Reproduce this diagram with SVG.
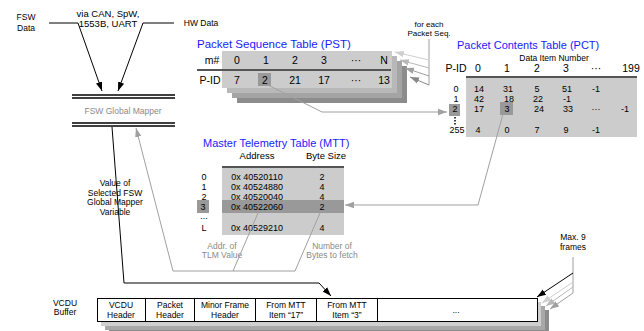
<svg xmlns="http://www.w3.org/2000/svg" width="644" height="331" viewBox="0 0 644 331">
<defs>
<style>
text{font-family:"Liberation Sans",Arial,sans-serif;fill:#000}
.lbl{font-size:8.5px;text-anchor:middle}
.num{font-size:10.5px;text-anchor:middle}
.row{font-size:9px;text-anchor:middle}
.ttl{font-size:11.5px;fill:#1a1aff}
.gtx{font-size:8.5px;text-anchor:middle;fill:#8a8a8a}
.k{stroke:#000;stroke-width:1;fill:none}
.g{stroke:#a0a0a0;stroke-width:1;fill:none}
.sep{stroke:#555;stroke-width:2}
.hl{fill:#999}
</style>
<marker id="ak" viewBox="0 0 10 10" refX="10" refY="5" markerWidth="9" markerHeight="9" orient="auto" markerUnits="userSpaceOnUse"><path d="M0,1.5 L10,5 L0,8.5 z" fill="#000"/></marker>
<marker id="ag" viewBox="0 0 10 10" refX="10" refY="5" markerWidth="9" markerHeight="9" orient="auto" markerUnits="userSpaceOnUse"><path d="M0,1.5 L10,5 L0,8.5 z" fill="#a0a0a0"/></marker>
<marker id="a1" viewBox="0 0 10 10" refX="10" refY="5" markerWidth="9" markerHeight="9" orient="auto" markerUnits="userSpaceOnUse"><path d="M0,1.5 L10,5 L0,8.5 z" fill="#cfcfcf"/></marker>
<marker id="a2" viewBox="0 0 10 10" refX="10" refY="5" markerWidth="9" markerHeight="9" orient="auto" markerUnits="userSpaceOnUse"><path d="M0,1.5 L10,5 L0,8.5 z" fill="#b8b8b8"/></marker>
<marker id="a3" viewBox="0 0 10 10" refX="10" refY="5" markerWidth="9" markerHeight="9" orient="auto" markerUnits="userSpaceOnUse"><path d="M0,1.5 L10,5 L0,8.5 z" fill="#a0a0a0"/></marker>
<marker id="a4" viewBox="0 0 10 10" refX="10" refY="5" markerWidth="9" markerHeight="9" orient="auto" markerUnits="userSpaceOnUse"><path d="M0,1.5 L10,5 L0,8.5 z" fill="#888"/></marker>
</defs>
<rect x="0" y="0" width="644" height="331" fill="#fff"/>

<g id="fsw-data">
<text class="lbl" x="26" y="20">FSW</text>
<text class="lbl" x="26" y="31">Data</text>
</g>
<g id="via-label">
<text class="lbl" x="108" y="17" style="font-size:9.5px">via CAN, SpW,</text>
<text class="lbl" x="108" y="27" style="font-size:9.5px">1553B, UART</text>
</g>
<g id="hw-data">
<text class="lbl" x="201" y="26">HW Data</text>
</g>

<g id="global-mapper">
<line x1="72" y1="95" x2="175" y2="95" stroke="#000" stroke-width="1.5"/>
<line x1="72" y1="98" x2="175" y2="98" stroke="#000" stroke-width="1.5"/>
<text class="gtx" x="123" y="114">FSW Global Mapper</text>
<line x1="72" y1="123" x2="175" y2="123" stroke="#000" stroke-width="1.5"/>
<line x1="72" y1="126" x2="175" y2="126" stroke="#000" stroke-width="1.5"/>
</g>

<g id="pst">
<text class="ttl" x="197" y="48">Packet Sequence Table (PST)</text>
<rect x="237" y="66" width="170" height="37" fill="#8c8c8c"/>
<rect x="232" y="61" width="170" height="37" fill="#a4a4a4"/>
<rect x="227" y="56" width="170" height="37" fill="#b8b8b8"/>
<rect x="222" y="51" width="170" height="37" fill="#cccccc"/>
<line class="sep" x1="197" y1="70" x2="391" y2="70"/>
<rect class="hl" x="258" y="73" width="13" height="13"/>
<text class="num" x="212" y="64">m#</text>
<text class="num" x="237" y="64">0</text>
<text class="num" x="266" y="64">1</text>
<text class="num" x="295" y="64">2</text>
<text class="num" x="324" y="64">3</text>
<text class="num" x="356" y="64">···</text>
<text class="num" x="384" y="64">N</text>
<text class="num" x="210" y="84">P-ID</text>
<text class="num" x="237" y="84">7</text>
<text class="num" x="265" y="84">2</text>
<text class="num" x="295" y="84">21</text>
<text class="num" x="324" y="84">17</text>
<text class="num" x="356" y="84">···</text>
<text class="num" x="384" y="84">13</text>
</g>

<g id="pst-note">
<text class="lbl" x="429" y="27" style="font-size:8px">for each</text>
<text class="lbl" x="429" y="36" style="font-size:8px">Packet Seq.</text>
</g>

<g id="pct">
<text class="ttl" x="457" y="49" style="font-size:11px">Packet Contents Table (PCT)</text>
<text class="lbl" x="554" y="61">Data Item Number</text>
<rect x="466" y="76" width="171" height="61" fill="#cccccc"/>
<line class="sep" x1="466" y1="77" x2="637" y2="77"/>
<rect class="hl" x="449" y="104" width="11" height="12"/>
<rect class="hl" x="500" y="102" width="13" height="13"/>
<line x1="455" y1="117" x2="455" y2="125" stroke="#000" stroke-width="1.5" stroke-dasharray="1.5,1.5"/>
<text class="num" x="456" y="72">P-ID</text>
<text class="num" x="478" y="72">0</text>
<text class="num" x="507" y="72">1</text>
<text class="num" x="537" y="72">2</text>
<text class="num" x="566" y="72">3</text>
<text class="num" x="596" y="72">···</text>
<text class="num" x="631" y="72">199</text>
<text class="row" x="456" y="92">0</text>
<text class="row" x="479" y="92">14</text>
<text class="row" x="508" y="92">31</text>
<text class="row" x="537" y="92">5</text>
<text class="row" x="567" y="92">51</text>
<text class="row" x="596" y="92">-1</text>
<text class="row" x="456" y="102">1</text>
<text class="row" x="479" y="102">42</text>
<text class="row" x="509" y="102">18</text>
<text class="row" x="538" y="102">22</text>
<text class="row" x="567" y="102">-1</text>
<text class="row" x="455" y="112">2</text>
<text class="row" x="479" y="112">17</text>
<text class="row" x="507" y="112">3</text>
<text class="row" x="539" y="112">24</text>
<text class="row" x="568" y="112">33</text>
<text class="row" x="596" y="112">···</text>
<text class="row" x="625" y="112">-1</text>
<text class="row" x="457" y="133">255</text>
<text class="row" x="478" y="133">4</text>
<text class="row" x="507" y="133">0</text>
<text class="row" x="537" y="133">7</text>
<text class="row" x="566" y="133">9</text>
<text class="row" x="596" y="133">-1</text>
</g>

<g id="mtt">
<text class="ttl" x="203" y="147" style="font-size:11px">Master Telemetry Table (MTT)</text>
<text class="num" x="257" y="159" style="font-size:9.5px">Address</text>
<text class="num" x="326" y="159" style="font-size:9.5px">Byte Size</text>
<rect x="222" y="166" width="122" height="69" fill="#cccccc"/>
<line class="sep" x1="222" y1="167" x2="344" y2="167"/>
<rect class="hl" x="222" y="200" width="122" height="13"/>
<rect class="hl" x="197" y="200" width="12" height="13"/>
<text class="row" x="204" y="180">0</text>
<text class="row" x="204" y="190">1</text>
<text class="row" x="204" y="200">2</text>
<text class="row" x="203" y="210">3</text>
<text class="row" x="204" y="219">...</text>
<text class="row" x="204" y="231">L</text>
<text class="row" x="257" y="180">0x 40520110</text>
<text class="row" x="257" y="190">0x 40524880</text>
<text class="row" x="257" y="200">0x 40520040</text>
<text class="row" x="257" y="210">0x 40522060</text>
<text class="row" x="257" y="231">0x 40529210</text>
<text class="row" x="322" y="180">2</text>
<text class="row" x="322" y="190">4</text>
<text class="row" x="322" y="200">4</text>
<text class="row" x="322" y="210">2</text>
<text class="row" x="322" y="231">4</text>
</g>

<g id="mtt-notes">
<text class="gtx" x="222" y="249">Addr. of</text>
<text class="gtx" x="222" y="258">TLM Value</text>
<text class="gtx" x="332" y="249">Number of</text>
<text class="gtx" x="332" y="258">Bytes to fetch</text>
</g>

<g id="mapper-value-label">
<text class="lbl" x="115" y="186">Value of</text>
<text class="lbl" x="115" y="196">Selected FSW</text>
<text class="lbl" x="115" y="205">Global Mapper</text>
<text class="lbl" x="115" y="215">Variable</text>
</g>

<g id="vcdu">
<text class="lbl" x="65" y="306">VCDU</text>
<text class="lbl" x="65" y="315">Buffer</text>
<rect x="109" y="310" width="440" height="24" fill="#8c8c8c"/>
<rect x="105" y="306" width="440" height="24" fill="#a8a8a8"/>
<rect x="101" y="302" width="440" height="24" fill="#cfcfcf"/>
<rect x="97.5" y="298.5" width="440" height="23" fill="#fff" stroke="#000"/>
<line x1="145.5" y1="298" x2="145.5" y2="322" stroke="#000"/>
<line x1="194.5" y1="298" x2="194.5" y2="322" stroke="#000"/>
<line x1="255.5" y1="298" x2="255.5" y2="322" stroke="#000"/>
<line x1="316.5" y1="298" x2="316.5" y2="322" stroke="#000"/>
<line x1="377.5" y1="298" x2="377.5" y2="322" stroke="#000"/>
<text class="lbl" x="121" y="308">VCDU</text>
<text class="lbl" x="121" y="318">Header</text>
<text class="lbl" x="170" y="308">Packet</text>
<text class="lbl" x="170" y="318">Header</text>
<text class="lbl" x="225" y="308">Minor Frame</text>
<text class="lbl" x="225" y="318">Header</text>
<text class="lbl" x="286" y="308">From MTT</text>
<text class="lbl" x="286" y="318">Item “17”</text>
<text class="lbl" x="347" y="308">From MTT</text>
<text class="lbl" x="347" y="318">Item “3”</text>
<text class="lbl" x="456" y="313">...</text>
<text class="lbl" x="573" y="240">Max. 9</text>
<text class="lbl" x="573" y="250">frames</text>
</g>

<g id="connectors">
<polyline class="k" points="49,23 78,23 102,91" marker-end="url(#ak)"/>
<polyline class="k" points="174,23 143,23 118,91" marker-end="url(#ak)"/>
<polyline class="k" points="112,127 124,283 319,283 331,296" marker-end="url(#ak)"/>
<polyline class="g" points="295,271 173,271 136,128" marker-end="url(#ag)"/>
<line class="g" x1="233" y1="271" x2="258" y2="213"/>
<line class="g" x1="295" y1="271" x2="320" y2="213"/>
<polyline class="g" points="268,85 322,112 447,112" marker-end="url(#ag)"/>
<polyline class="g" points="503,114 478,205 345,205" marker-end="url(#ag)"/>
<line class="g" x1="429" y1="39" x2="429" y2="85"/>
<line x1="429" y1="60" x2="395" y2="52" stroke="#cfcfcf" marker-end="url(#a1)"/>
<line x1="429" y1="68" x2="400" y2="60" stroke="#b8b8b8" marker-end="url(#a2)"/>
<line x1="429" y1="76" x2="405" y2="68" stroke="#a0a0a0" marker-end="url(#a3)"/>
<line x1="429" y1="85" x2="410" y2="77" stroke="#888" marker-end="url(#a4)"/>
<line class="g" x1="573" y1="257" x2="573" y2="293"/>
<line x1="573" y1="273" x2="537" y2="297" stroke="#000" marker-end="url(#ak)"/>
<line x1="573" y1="282" x2="542" y2="303" stroke="#cfcfcf" marker-end="url(#a1)"/>
<line x1="573" y1="287" x2="546" y2="306" stroke="#b8b8b8" marker-end="url(#a2)"/>
<line x1="573" y1="293" x2="550" y2="309" stroke="#a0a0a0" marker-end="url(#a3)"/>
</g>
</svg>
